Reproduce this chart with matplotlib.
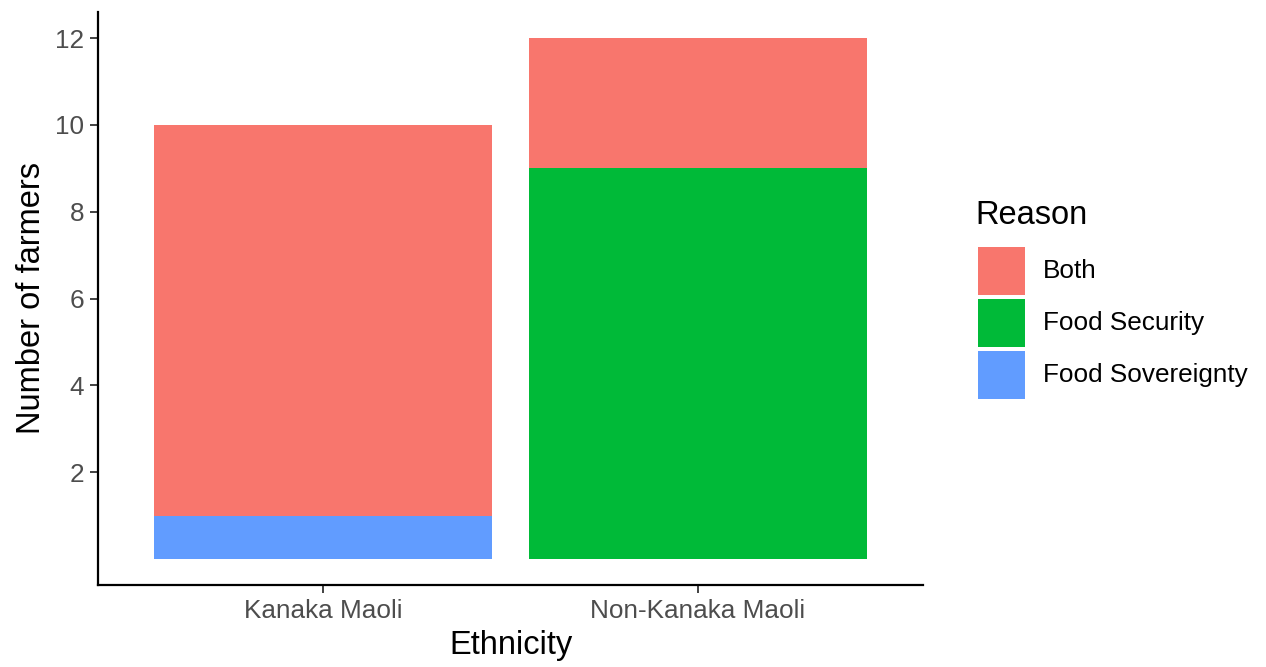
import matplotlib
matplotlib.use("Agg")
import matplotlib.pyplot as plt
from matplotlib.patches import Rectangle
import numpy as np

plt.rcParams['font.family'] = ['Liberation Sans', 'DejaVu Sans']

categories = ["Kanaka Maoli", "Non-Kanaka Maoli"]
reasons = ["Both", "Food Security", "Food Sovereignty"]
both = [9, 3]
food_security = [0, 9]
food_sovereignty = [1, 0]
colors = {"Both": "#F8766D", "Food Security": "#00BA38", "Food Sovereignty": "#619CFF"}
yticks = [2, 4, 6, 8, 10, 12]

W, H = 1266, 667
fig = plt.figure(figsize=(W / 100, H / 100), dpi=100)
ax = fig.add_axes([98 / W, 1 - 585 / H, (923 - 98) / W, (585 - 12) / H])

x = np.arange(1, len(categories) + 1)
# stacking order (bottom to top): Food Sovereignty, Food Security, Both
bottom = np.zeros(len(categories))
for name, vals in [("Food Sovereignty", food_sovereignty), ("Food Security", food_security), ("Both", both)]:
    v = np.array(vals, dtype=float)
    ax.bar(x, v, bottom=bottom, width=0.9, color=colors[name], linewidth=0)
    bottom += v

ax.set_xlim(0.4, 2.6)
ax.set_ylim(-0.6, 12.6)
ax.set_xticks(x)
ax.set_xticklabels(categories)
ax.set_yticks(yticks)
ax.set_yticklabels([str(t) for t in yticks])

for s in ["top", "right"]:
    ax.spines[s].set_visible(False)
for s in ["left", "bottom"]:
    ax.spines[s].set_linewidth(1.6)
    ax.spines[s].set_color("black")

ax.tick_params(axis="both", length=6, width=1.3, color="#333333", labelcolor="#4D4D4D", labelsize=18.8, pad=4)
ax.set_xlabel("Ethnicity", fontsize=23.5, labelpad=5, color="black")
ax.set_ylabel("Number of farmers", fontsize=23.5, labelpad=6, color="black")

# legend (manual, ggplot-style)
fig.text(975 / W, 1 - 224 / H, "Reason", fontsize=23.5, ha="left", va="baseline")
key_top = 246
key_h = 52
for i, name in enumerate(reasons):
    y0 = key_top + i * key_h
    fig.patches.append(Rectangle((978 / W, 1 - (y0 + 49) / H), 47 / W, 48 / H,
                                 transform=fig.transFigure, facecolor=colors[name], edgecolor="none"))
    fig.text(1043 / W, 1 - (y0 + 25) / H, name, fontsize=18.8, ha="left", va="center")

fig.savefig("out.png", dpi=100)
